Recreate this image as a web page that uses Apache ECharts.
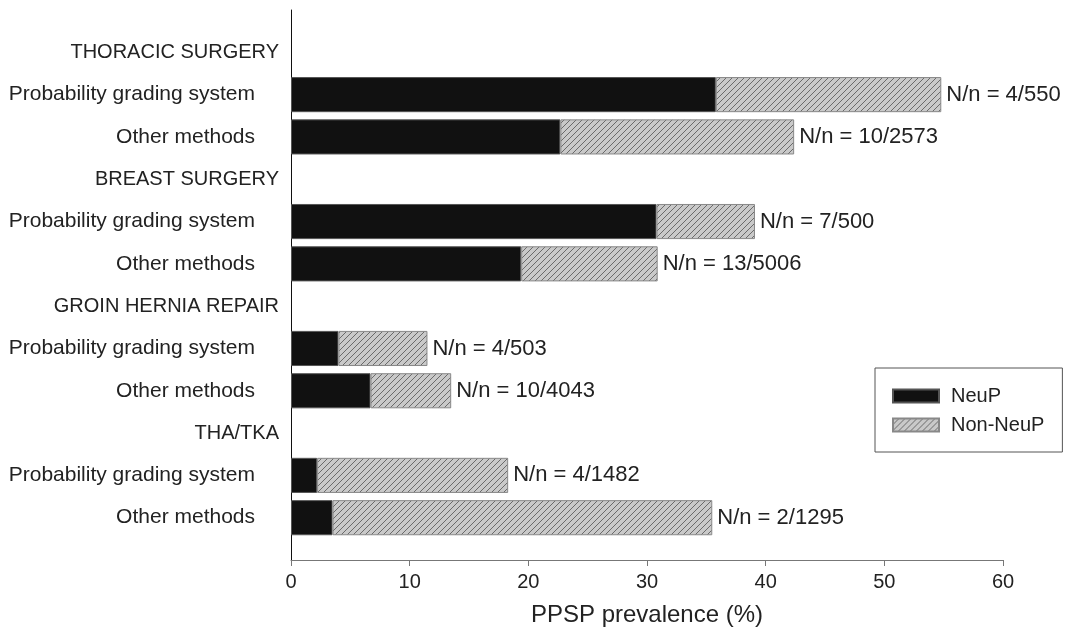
<!DOCTYPE html>
<html>
<head>
<meta charset="utf-8">
<script src="https://cdn.jsdelivr.net/npm/echarts@6/dist/echarts.min.js"></script>
<style>
  html, body { margin: 0; padding: 0; background: #fff; }
  #chart { width: 1065px; height: 628px; }
</style>
</head>
<body>
<div id="chart"></div>
<script>
// ---- data (top to bottom); '' entries pad the axis ends ----
const categories = ['', 'THORACIC SURGERY', 'Probability grading system', 'Other methods',
  'BREAST SURGERY', 'Probability grading system', 'Other methods',
  'GROIN HERNIA REPAIR', 'Probability grading system', 'Other methods',
  'THA/TKA', 'Probability grading system', 'Other methods', ''];
const headers = ['THORACIC SURGERY', 'BREAST SURGERY', 'GROIN HERNIA REPAIR', 'THA/TKA'];
const neuP    = [null, null, 35.8, 22.7, null, 30.8, 19.4, null, 4.0, 6.7, null, 2.2, 3.5, null];
const nonNeuP = [null, null, 19.0, 19.7, null, 8.3, 11.5, null, 7.5, 6.8, null, 16.1, 32.0, null];
const nLabels = ['', '', 'N/n = 4/550', 'N/n = 10/2573', '', 'N/n = 7/500', 'N/n = 13/5006',
  '', 'N/n = 4/503', 'N/n = 10/4043', '', 'N/n = 4/1482', 'N/n = 2/1295', ''];
const xTicks = { min: 0, max: 60, interval: 10 };

// hatch pattern
function makeHatch() {
  const s = 6;
  const c = document.createElement('canvas');
  c.width = s; c.height = s;
  const g = c.getContext('2d');
  g.fillStyle = '#c9c9c9';
  g.fillRect(0, 0, s, s);
  g.strokeStyle = '#6a6a6a';
  g.lineWidth = 1;
  g.beginPath();
  g.moveTo(0, s); g.lineTo(s, 0);
  g.moveTo(-s / 2, s / 2); g.lineTo(s / 2, -s / 2);
  g.moveTo(s / 2, s + s / 2); g.lineTo(s + s / 2, s / 2);
  g.stroke();
  return c;
}
const hatch = { image: makeHatch(), repeat: 'repeat' };

const FONT = "'Liberation Sans', Arial, sans-serif";
const chart = echarts.init(document.getElementById('chart'), null, { renderer: 'canvas' });
chart.setOption({
  animation: false,
  backgroundColor: '#fff',
  textStyle: { fontFamily: FONT },
  grid: { left: 291, right: 62, top: 10, bottom: 68, containLabel: false, outerBoundsMode: 'none' },
  legend: {
    data: ['NeuP', 'Non-NeuP'],
    orient: 'vertical',
    left: 875, top: 368,
    padding: [18, 18, 17, 17],
    borderColor: '#555', borderWidth: 1,
    itemWidth: 46, itemHeight: 13, itemGap: 9,
    icon: 'rect',
    textStyle: { fontSize: 20, color: '#222', fontFamily: FONT, padding: [0, 0, 0, 7] }
  },
  xAxis: {
    type: 'value', min: xTicks.min, max: xTicks.max, interval: xTicks.interval,
    name: 'PPSP prevalence (%)', nameLocation: 'middle', nameGap: 43,
    nameTextStyle: { fontSize: 24, color: '#222', fontFamily: FONT },
    axisLine: { show: true, lineStyle: { color: '#777', width: 1 } },
    axisTick: { show: true, length: 6, lineStyle: { color: '#777' } },
    axisLabel: { fontSize: 20, color: '#222', margin: 12, fontFamily: FONT },
    splitLine: { show: false }
  },
  yAxis: {
    type: 'category', inverse: true, boundaryGap: false,
    data: categories,
    axisLine: { show: true, lineStyle: { color: '#111', width: 1 } },
    axisTick: { show: false },
    splitLine: { show: false },
    axisLabel: {
      interval: 0, margin: 12, color: '#222', fontSize: 20, fontFamily: FONT,
      formatter: v => v === '' ? '' : (headers.includes(v) ? '{h|' + v + '}' : '{s|' + v + '}'),
      rich: {
        h: { fontSize: 20, color: '#222', fontFamily: FONT },
        s: { fontSize: 21, color: '#222', fontFamily: FONT, padding: [0, 24, 0, 0] }
      }
    }
  },
  series: [
    {
      name: 'NeuP', type: 'bar', stack: 'total', data: neuP,
      barCategoryGap: '17%',
      itemStyle: { color: '#111', borderColor: '#555', borderWidth: 1 }
    },
    {
      name: 'Non-NeuP', type: 'bar', stack: 'total', data: nonNeuP,
      barCategoryGap: '17%',
      itemStyle: { color: hatch, borderColor: '#888', borderWidth: 1 },
      label: {
        show: true, position: 'right', distance: 5,
        fontSize: 22, color: '#222', fontFamily: FONT,
        formatter: p => nLabels[p.dataIndex]
      }
    }
  ]
});
</script>
</body>
</html>
